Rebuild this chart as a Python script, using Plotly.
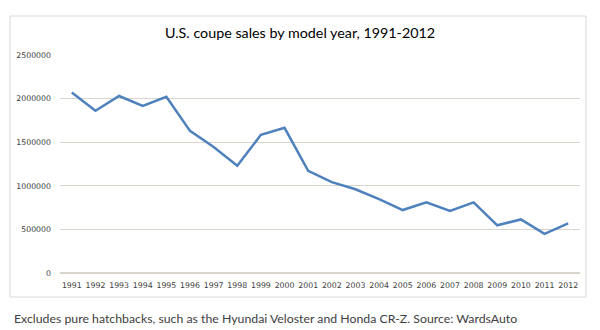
import plotly.graph_objects as go

# U.S. coupe sales by model year
years = [str(y) for y in range(1991, 2013)]
sales = [2070000, 1860000, 2030000, 1915000, 2020000, 1630000, 1445000, 1230000,
         1585000, 1665000, 1172000, 1042000, 960000, 847000, 722000, 810000,
         712000, 810000, 547000, 614000, 449000, 568000]
y_ticks = [0, 500000, 1000000, 1500000, 2000000, 2500000]
y_tick_text = [str(v) for v in y_ticks]

W, H = 600, 330
L, R, T, B = 60, 20, 55, 57
PW, PH = W - L - R, H - T - B


def px_x(x):
    return (x - L) / PW


def px_y(y):
    return (H - B - y) / PH


fig = go.Figure()
fig.add_trace(go.Scatter(
    x=years, y=sales, mode="lines",
    line=dict(color="#4F81BD", width=2.5),
    hoverinfo="x+y",
))

grid = "#D9D5CC"
tick_font = dict(family="DejaVu Sans", size=7.8, color="#404040")
fig.update_layout(
    width=W, height=H,
    margin=dict(l=L, r=R, t=T, b=B),
    paper_bgcolor="white", plot_bgcolor="white",
    showlegend=False,
    font=dict(family="DejaVu Sans", size=9, color="#404040"),
    xaxis=dict(
        type="category", range=[-0.5, len(years) - 0.5],
        showgrid=False, zeroline=False, tickangle=0,
        showline=False, ticks="", ticklabelstandoff=6,
        tickfont=tick_font,
    ),
    yaxis=dict(
        range=[0, 2500000], tickvals=y_ticks, ticktext=y_tick_text,
        showgrid=True, gridcolor=grid, gridwidth=1.2,
        zeroline=True, zerolinecolor=grid, zerolinewidth=1.5,
        showline=False, ticks="", ticklabelstandoff=8,
        tickfont=tick_font,
    ),
    shapes=[dict(
        type="rect", xref="paper", yref="paper",
        x0=px_x(10), x1=px_x(586), y0=px_y(297), y1=px_y(16),
        line=dict(color="#D9D9D9", width=1), fillcolor="rgba(0,0,0,0)",
        layer="below",
    )],
    annotations=[
        dict(text="U.S. coupe sales by model year, 1991-2012",
             xref="paper", yref="paper", x=px_x(300), y=px_y(32),
             xanchor="center", yanchor="middle", showarrow=False,
             font=dict(family="Lato", size=14.3, color="#000000")),
        dict(text="Excludes pure hatchbacks, such as the Hyundai Veloster and Honda CR-Z. Source: WardsAuto",
             xref="paper", yref="paper", x=px_x(12), y=px_y(318),
             xanchor="left", yanchor="middle", showarrow=False,
             font=dict(family="Lato", size=12.3, color="#404040")),
    ],
)

fig.write_html("out.html")
